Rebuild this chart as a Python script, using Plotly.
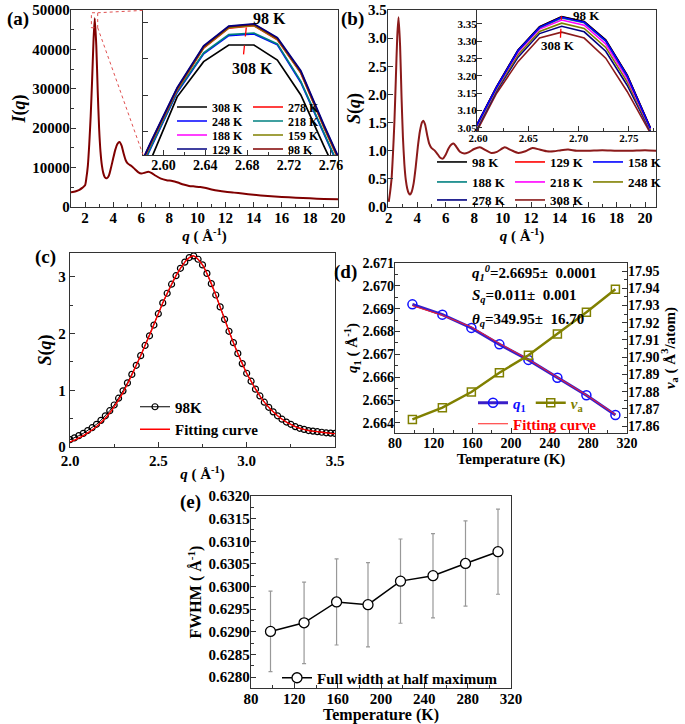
import plotly.graph_objects as go

FONT = "Liberation Serif"
W, H = 685, 724

# ---------------- (a) I(q) main curve ----------------
q_main_a = [1.0, 1.2, 1.4, 1.6, 1.8, 2.0, 2.1, 2.2, 2.3, 2.4, 2.5, 2.6, 2.69, 2.8, 2.9, 3.0, 3.1, 3.2,
            3.3, 3.4, 3.55, 3.7, 3.85, 4.0, 4.15, 4.3, 4.45, 4.6, 4.75, 4.9, 5.05, 5.3, 5.55, 5.8, 6.0,
            6.25, 6.5, 6.75, 7.0, 7.4, 7.8, 8.2, 8.6, 9.0, 9.4, 9.8, 10.2, 10.6, 11.0, 11.5, 12.0,
            12.6, 13.2, 14.0, 15.0, 16.0, 17.0, 18.0, 19.0, 20.0]
I_main = [3750, 3850, 4050, 4350, 4850, 5500, 7500, 10500, 16000, 23000, 32000, 42000, 47900, 41000,
          29500, 20000, 14000, 10500, 8600, 7600, 7300, 8000, 10000, 12300, 14500, 16000, 16500, 15600,
          13500, 11800, 11000, 10400, 9600, 8800, 8500, 8700, 8950, 8600, 8000, 7200, 6800, 6600, 6200,
          5700, 5350, 5200, 5050, 4800, 4450, 4100, 3850, 3650, 3400, 3100, 2800, 2550, 2350, 2200,
          2050, 1950]

# ---------------- (a) inset ----------------
q_in_a = [2.5655, 2.5891, 2.6131, 2.6384, 2.6624, 2.6864, 2.7088, 2.7312, 2.7536, 2.7760]
I_in_308 = [37800, 40600, 43910, 45850, 46770, 46770, 45940, 44010, 41150, 38400]
I_in_278 = [38540, 41460, 44300, 46600, 47700, 47830, 47060, 45220, 42180, 39320]
I_in_248 = [38350, 41180, 44150, 46280, 47290, 47380, 46780, 44700, 41860, 38950]
I_in_218 = [38400, 41230, 44200, 46330, 47340, 47430, 46830, 44760, 41920, 39000]
I_in_188 = [38580, 41500, 44350, 46650, 47750, 47880, 47110, 45270, 42230, 39370]
I_in_159 = [38560, 41480, 44330, 46620, 47720, 47850, 47080, 45240, 42200, 39340]
I_in_129 = [38620, 41560, 44420, 46720, 47810, 47940, 47180, 45350, 42320, 39460]
I_in_98 = [38600, 41520, 44380, 46680, 47780, 47910, 47140, 45300, 42260, 39400]
labels_a = ["308 K", "278 K", "248 K", "218 K", "188 K", "159 K", "129 K", "98 K"]
colors_a = ["#000000", "#ff0000", "#0000ff", "#008080", "#ff00ff", "#808000", "#000080", "#800000"]
series_a = [I_in_308, I_in_278, I_in_248, I_in_218, I_in_188, I_in_159, I_in_129, I_in_98]

# ---------------- (b) S(q) main curve ----------------
q_main_b = [2.0, 2.1, 2.2, 2.3, 2.4, 2.5, 2.6, 2.69, 2.8, 2.9, 3.0, 3.1, 3.2, 3.3, 3.4, 3.5, 3.6, 3.75,
            3.9, 4.05, 4.2, 4.35, 4.45, 4.55, 4.7, 4.85, 5.0, 5.2, 5.4, 5.6, 5.8, 6.0, 6.2, 6.4, 6.55,
            6.75, 7.0, 7.3, 7.6, 8.0, 8.4, 8.8, 9.2, 9.6, 10.15, 10.6, 11.1, 11.6, 12.1, 12.6, 13.1,
            13.6, 14.1, 14.6, 15.2, 16.0, 17.0, 18.0, 19.0, 20.0, 20.8]
S_main = [0.09, 0.27, 0.50, 0.95, 1.51, 2.27, 3.03, 3.37, 2.86, 1.96, 1.23, 0.76, 0.48, 0.33, 0.25,
          0.22, 0.26, 0.42, 0.72, 1.08, 1.36, 1.51, 1.53, 1.47, 1.28, 1.12, 1.05, 1.01, 0.95, 0.88,
          0.86, 0.93, 1.04, 1.11, 1.13, 1.07, 0.98, 0.95, 0.97, 1.03, 1.06, 1.01, 0.96, 0.98, 1.06,
          1.01, 0.96, 0.99, 1.05, 1.02, 0.99, 0.99, 1.01, 1.02, 1.00, 1.00, 1.01, 1.00, 1.00, 1.01, 1.00]

# ---------------- (b) inset ----------------
q_in_b = [2.597, 2.6185, 2.6398, 2.6612, 2.6832, 2.7056, 2.7270, 2.7483, 2.7714]
S_in_98 = [3.049, 3.169, 3.275, 3.342, 3.371, 3.357, 3.304, 3.203, 3.050]
S_in_129 = [3.049, 3.169, 3.274, 3.341, 3.370, 3.356, 3.303, 3.202, 3.050]
S_in_158 = [3.048, 3.168, 3.273, 3.340, 3.369, 3.355, 3.301, 3.201, 3.049]
S_in_188 = [3.047, 3.167, 3.272, 3.339, 3.367, 3.353, 3.300, 3.199, 3.049]
S_in_218 = [3.045, 3.165, 3.268, 3.335, 3.361, 3.346, 3.292, 3.192, 3.047]
S_in_248 = [3.041, 3.161, 3.261, 3.328, 3.352, 3.337, 3.282, 3.183, 3.044]
S_in_278 = [3.037, 3.157, 3.254, 3.322, 3.343, 3.327, 3.271, 3.173, 3.041]
S_in_308 = [3.030, 3.150, 3.241, 3.309, 3.326, 3.309, 3.251, 3.155, 3.035]
labels_b = ["98 K", "129 K", "158 K", "188 K", "218 K", "248 K", "278 K", "308 K"]
colors_b = ["#000000", "#ff0000", "#0000ff", "#008080", "#ff00ff", "#808000", "#000080", "#8b1a1a"]
series_b = [S_in_98, S_in_129, S_in_158, S_in_188, S_in_218, S_in_248, S_in_278, S_in_308]

# ---------------- (c) S(q) at 98 K with fit ----------------
q_c = [2.000, 2.025, 2.050, 2.075, 2.100, 2.125, 2.150, 2.175, 2.200, 2.225, 2.250, 2.275, 2.300,
       2.325, 2.350, 2.375, 2.400, 2.425, 2.450, 2.475, 2.500, 2.525, 2.550, 2.575, 2.600, 2.625,
       2.650, 2.675, 2.700, 2.725, 2.750, 2.775, 2.800, 2.825, 2.850, 2.875, 2.900, 2.925, 2.950,
       2.975, 3.000, 3.025, 3.050, 3.075, 3.100, 3.125, 3.150, 3.175, 3.200, 3.225, 3.250, 3.275,
       3.300, 3.325, 3.350, 3.375, 3.400, 3.425, 3.450, 3.475, 3.500]
S_c = [0.13, 0.16, 0.20, 0.24, 0.29, 0.34, 0.40, 0.47, 0.55, 0.64, 0.74, 0.86, 0.99, 1.13, 1.28,
       1.44, 1.61, 1.79, 1.96, 2.15, 2.35, 2.54, 2.71, 2.87, 3.02, 3.15, 3.26, 3.34, 3.37, 3.31,
       3.21, 3.06, 2.88, 2.68, 2.47, 2.25, 2.04, 1.84, 1.65, 1.47, 1.30, 1.16, 1.02, 0.90, 0.79,
       0.70, 0.62, 0.55, 0.49, 0.44, 0.40, 0.36, 0.33, 0.31, 0.29, 0.28, 0.27, 0.26, 0.25, 0.245, 0.24]
S_c_fit = [0.09, 0.12, 0.16, 0.20, 0.25, 0.30, 0.36, 0.43, 0.51, 0.60, 0.71, 0.83, 0.96, 1.11, 1.27,
           1.44, 1.61, 1.79, 1.97, 2.16, 2.35, 2.54, 2.71, 2.87, 3.02, 3.15, 3.26, 3.34, 3.37, 3.31,
           3.21, 3.06, 2.88, 2.68, 2.47, 2.25, 2.04, 1.84, 1.65, 1.47, 1.30, 1.16, 1.02, 0.90, 0.79,
           0.70, 0.62, 0.55, 0.49, 0.44, 0.40, 0.36, 0.33, 0.31, 0.29, 0.28, 0.27, 0.26, 0.25, 0.24, 0.235]

# ---------------- (d) q1 and v_a vs temperature ----------------
T = [98, 129, 159, 188, 218, 248, 278, 308]
q1 = [2.66919, 2.66874, 2.66816, 2.66744, 2.66676, 2.66598, 2.66521, 2.66435]
q1_fit = [2.66913, 2.66871, 2.66820, 2.66748, 2.66678, 2.66600, 2.66522, 2.66437]
v_a = [17.8639, 17.8707, 17.8798, 17.8910, 17.9011, 17.9135, 17.9261, 17.9395]

# ---------------- (e) FWHM ----------------
fwhm = [0.62901, 0.62920, 0.62966, 0.62960, 0.63012, 0.63024, 0.63051, 0.63077]
fwhm_err = [0.00089, 0.00090, 0.00095, 0.00093, 0.00093, 0.00093, 0.00094, 0.00094]


def px(x):
    return x / W


def py(y):
    return 1 - y / H


fig = go.Figure()

# (a)
fig.add_trace(go.Scatter(x=q_main_a, y=I_main, xaxis="x", yaxis="y", mode="lines",
                         line=dict(color="#800000", width=2, shape="spline", smoothing=0.6),
                         showlegend=False, hoverinfo="skip"))
legs_a = ["legend", "legend", "legend2", "legend2", "legend3", "legend3", "legend4", "legend4"]
draw_order_a = [0, 2, 3, 1, 4, 5, 7, 6]
for i in draw_order_a:
    fig.add_trace(go.Scatter(x=q_in_a, y=series_a[i], xaxis="x2", yaxis="y2", mode="lines",
                             line=dict(color=colors_a[i], width=1.7), name=labels_a[i],
                             legend=legs_a[i], legendrank=i + 1))

# (b)
fig.add_trace(go.Scatter(x=q_main_b, y=S_main, xaxis="x3", yaxis="y3", mode="lines",
                         line=dict(color="#8b1a1a", width=2, shape="spline", smoothing=0.6),
                         showlegend=False, hoverinfo="skip"))
legs_b = ["legend5", "legend5", "legend5", "legend6", "legend6", "legend6", "legend7", "legend7"]
draw_order_b = [7, 6, 5, 4, 3, 1, 0, 2]
for i in draw_order_b:
    fig.add_trace(go.Scatter(x=q_in_b, y=series_b[i], xaxis="x4", yaxis="y4", mode="lines",
                             line=dict(color=colors_b[i], width=1.6), name=labels_b[i],
                             legend=legs_b[i], legendrank=i + 1))

# (c)
fig.add_trace(go.Scatter(x=q_c, y=S_c, xaxis="x5", yaxis="y5", mode="lines+markers",
                         line=dict(color="black", width=1),
                         marker=dict(symbol="circle-open", size=6, color="black", line=dict(width=1.2)),
                         name="98K", legend="legend8"))
fig.add_trace(go.Scatter(x=q_c, y=S_c_fit, xaxis="x5", yaxis="y5", mode="lines",
                         line=dict(color="#ff0000", width=1.4, shape="spline"),
                         name="Fitting curve", legend="legend8"))

# (d)
fig.add_trace(go.Scatter(x=T, y=q1, xaxis="x6", yaxis="y6", mode="lines+markers",
                         line=dict(color="#3a1fc8", width=3),
                         marker=dict(symbol="circle-open", size=9, color="#1010ff", line=dict(width=1.5)),
                         name="<span style='color:#1010ff'><i>q</i><sub>1</sub></span>", legend="legend9"))
fig.add_trace(go.Scatter(x=T, y=v_a, xaxis="x6", yaxis="y7", mode="lines+markers",
                         line=dict(color="#808000", width=2.5),
                         marker=dict(symbol="square-open", size=8, color="#808000", line=dict(width=1.5)),
                         name="<span style='color:#808000'><i>v</i><sub>a</sub></span>", legend="legend9"))
fig.add_trace(go.Scatter(x=T, y=q1_fit, xaxis="x6", yaxis="y6", mode="lines",
                         line=dict(color="#ff2020", width=1),
                         name="<span style='color:#ff0000'>Fitting curve</span>", legend="legend10"))

# (e)
fig.add_trace(go.Scatter(x=T, y=fwhm, xaxis="x8", yaxis="y8", mode="lines+markers",
                         line=dict(color="black", width=1.5),
                         marker=dict(symbol="circle", size=10, color="white", line=dict(width=1.3, color="black")),
                         error_y=dict(type="data", array=fwhm_err, color="#999999", thickness=1.2, width=2),
                         name="Full width at half maximum", legend="legend11"))

LC = "#333333"


def axis(domain, rng, dtick, size=15, minor=None, **kw):
    d = dict(domain=domain, range=rng, dtick=dtick, showline=True, linecolor=LC, linewidth=1.3,
             mirror=True, ticks="inside", ticklen=5, tickwidth=1.2, tickcolor=LC, showgrid=False,
             zeroline=False, automargin=False, ticklabelstandoff=-3,
             tickfont=dict(family=FONT, size=size, color="black", weight="bold"))
    if minor is not None:
        d["minor"] = dict(dtick=minor, ticks="inside", ticklen=3, tickcolor=LC, showgrid=False)
    d.update(kw)
    return d


def ttl(text, size=15, standoff=2):
    return dict(text=text, font=dict(family=FONT, size=size, color="black", weight="bold"), standoff=standoff)


qlab = "<i>q</i> ( Å<sup>-1</sup>)"

fig.update_layout(
    template="none",
    width=W, height=H, margin=dict(l=0, r=0, t=0, b=0, autoexpand=False),
    plot_bgcolor="white", paper_bgcolor="white",
    font=dict(family=FONT, size=14, color="black", weight="bold"),
    xaxis=axis([px(71), px(338)], [1, 20], 2, minor=1, anchor="y", title=ttl(qlab, 15, 0)),
    yaxis=axis([py(207), py(10)], [0, 50000], 10000, minor=5000, anchor="x", tickformat="d",
               title=ttl("<i>I</i>(<i>q</i>)", 18, 2)),
    xaxis2=axis([px(143), px(338)], [2.5805, 2.7667], 0.04, size=14, minor=0.02, anchor="y2",
                tick0=2.6, tickformat=".2f"),
    yaxis2=axis([py(155), py(10)], [40700, 48700], 2000, anchor="x2", showticklabels=False),
    xaxis3=axis([px(388), px(656)], [1.95, 20.77], 2, minor=1, anchor="y3", title=ttl(qlab, 15, 0)),
    yaxis3=axis([py(207), py(10)], [0, 3.5], 0.5, anchor="x3", tickformat=".1f",
                title=ttl("<i>S</i>(<i>q</i>)", 18, 2)),
    xaxis4=axis([px(477), px(656)], [2.599, 2.777], 0.05, size=11, minor=0.025, anchor="y4",
                tick0=2.6, tickformat=".2f"),
    yaxis4=axis([py(131), py(10)], [3.041, 3.390], 0.05, size=11, anchor="x4", tick0=3.05,
                tickformat=".2f"),
    xaxis5=axis([px(70), px(335)], [2.0, 3.5], 0.5, minor=0.25, anchor="y5", tickformat=".1f",
                ticklabelstandoff=0, title=ttl(qlab, 15, 0)),
    yaxis5=axis([py(447), py(253)], [0, 3.42], 1, minor=0.5, anchor="x5", ticklabelstandoff=0,
                title=ttl("<i>S</i>(<i>q</i>)", 18, 2)),
    xaxis6=axis([px(395), px(627)], [80, 320], 40, size=14, minor=20, anchor="y6",
                title=ttl("Temperature (K)", 15, 0)),
    yaxis6=axis([py(433), py(263)], [2.66356, 2.671], 0.001, size=14, minor=0.0005, anchor="x6",
                tickformat=".3f", title=ttl("<i>q</i><sub>1</sub> ( Å<sup>-1</sup>)", 15, 0)),
    yaxis7=axis([py(433), py(263)], [17.856, 17.9547], 0.01, size=14, minor=0.005, anchor="x6",
                overlaying="y6", side="right", tick0=17.86, tickformat=".2f",
                title=ttl("<i>v</i><sub>a</sub> ( Å<sup>3</sup>/atom)", 15, 2)),
    xaxis8=axis([px(251), px(511)], [80, 320], 40, size=15, minor=20, anchor="y8",
                title=ttl("Temperature (K)", 16, 0)),
    yaxis8=axis([py(688), py(496)], [0.62776, 0.6320], 0.0005, size=15, minor=0.00025, anchor="x8",
                tickformat=".4f", title=ttl("FWHM ( Å<sup>-1</sup>)", 16, 2)),
)


def leg(xp, yp, size, orientation="h", entrywidth=None):
    d = dict(x=px(xp), y=py(yp), xanchor="left", yanchor="middle", orientation=orientation,
             bgcolor="rgba(0,0,0,0)", borderwidth=0, tracegroupgap=0,
             font=dict(family=FONT, size=size, color="black", weight="bold"))
    if entrywidth:
        d.update(entrywidth=entrywidth, entrywidthmode="pixels")
    return d


fig.update_layout(
    legend=leg(172, 107, 12, entrywidth=31),
    legend2=leg(172, 121, 12, entrywidth=31),
    legend3=leg(172, 135, 12, entrywidth=31),
    legend4=leg(172, 149, 12, entrywidth=31),
    legend5=leg(432, 162, 13, entrywidth=33),
    legend6=leg(432, 182, 13, entrywidth=33),
    legend7=leg(432, 200, 13, entrywidth=33),
    legend8=leg(135, 418, 15, orientation="v"),
    legend9=leg(473, 403, 15),
    legend10=leg(473, 424, 15),
    legend11=leg(277, 678, 15),
)

ann = []


def panel(text, xp, yp):
    ann.append(dict(text=text, x=px(xp), y=py(yp), xref="paper", yref="paper", showarrow=False,
                    xanchor="center", yanchor="middle",
                    font=dict(family=FONT, size=19, color="black", weight="bold")))


panel("(a)", 18, 19)
panel("(b)", 352, 19)
panel("(c)", 45, 257)
panel("(d)", 345, 272)
panel("(e)", 190, 502)


def label(text, x, y, xr, yr, size):
    ann.append(dict(text=text, x=x, y=y, xref=xr, yref=yr, showarrow=False, xanchor="center",
                    yanchor="middle", font=dict(family=FONT, size=size, color="black", weight="bold")))


# inset labels
label("98 K", 2.7015, 48242, "x2", "y2", 16)
label("308 K", 2.6848, 45482, "x2", "y2", 16)
ann.append(dict(text=" ", x=2.680, y=48350, xref="x2", yref="y2", ax=0, ay=9, showarrow=True,
                arrowhead=2, arrowsize=1, arrowwidth=1.5, arrowcolor="red"))
label("98 K", 2.708, 3.374, "x4", "y4", 13)
label("308 K", 2.680, 3.288, "x4", "y4", 13)
ann.append(dict(text=" ", x=2.6835, y=3.388, xref="x4", yref="y4", ax=0, ay=8, showarrow=True,
                arrowhead=2, arrowsize=1, arrowwidth=1.5, arrowcolor="red"))

# (d) fit parameters
nb = "\u00a0"
for txt, yy in [("<i>q</i><sub><i>1</i></sub><sup><i>0</i></sup>=2.6695±" + nb * 2 + "0.0001", 273),
                ("<i>S</i><sub><i>q</i></sub>=0.011±" + nb * 2 + "0.001", 296),
                ("<i>θ</i><sub><i>q</i></sub>=349.95±" + nb * 2 + "16.70", 320)]:
    ann.append(dict(text=txt, x=px(470), y=py(yy), xref="paper", yref="paper", xanchor="left",
                    yanchor="middle", showarrow=False,
                    font=dict(family=FONT, size=15, color="black", weight="bold")))

fig.update_layout(annotations=ann)

shapes = [
    dict(type="rect", x0=2.45, x1=2.9, y0=45500, y1=49300, xref="x", yref="y",
         line=dict(color="#e05050", width=1, dash="dot")),
    dict(type="line", x0=2.9, y0=49300, x1=6.12, y1=49900, xref="x", yref="y",
         line=dict(color="#e05050", width=1, dash="dot")),
    dict(type="line", x0=2.9, y0=45500, x1=6.12, y1=13300, xref="x", yref="y",
         line=dict(color="#e05050", width=1, dash="dot")),
    dict(type="line", x0=2.6765, y0=46250, x1=2.6795, y1=47950, xref="x2", yref="y2",
         line=dict(color="red", width=1.3, dash="dash")),
    dict(type="line", x0=2.682, y0=3.310, x1=2.683, y1=3.372, xref="x4", yref="y4",
         line=dict(color="red", width=1.3, dash="dash")),
]
fig.update_layout(shapes=shapes)

fig.write_html("out.html", config={"displayModeBar": False},
               post_script="document.body.style.margin='0px';document.body.style.padding='0px';")
